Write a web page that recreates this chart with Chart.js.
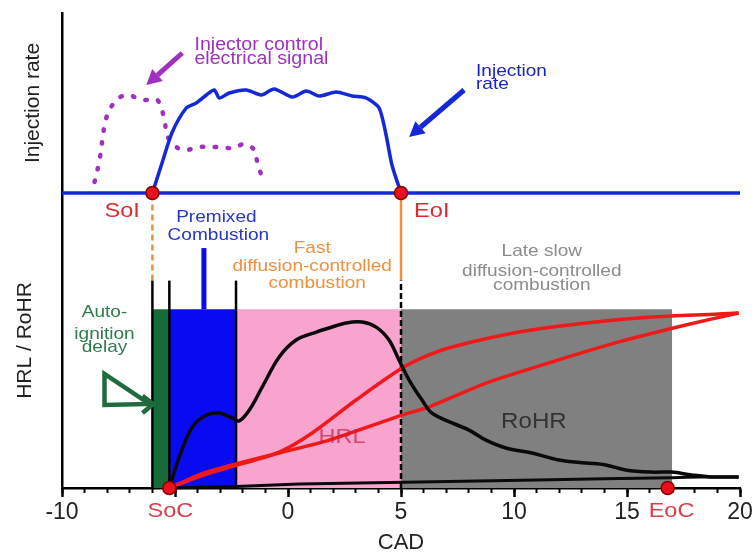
<!DOCTYPE html>
<html>
<head>
<meta charset="utf-8">
<script src="https://cdn.jsdelivr.net/npm/chart.js@4.4.1/dist/chart.umd.min.js"></script>
<style>
  html, body { margin: 0; padding: 0; background: #fff; }
</style>
</head>
<body>
<canvas id="combustionChart" width="755" height="558"></canvas>
<script>
// ---- data ----
// injection rate (upper panel), CAD vs normalised rate
const injCad  = [-6.0, -5.56, -5.12, -4.5, -4.06, -3.61, -3.26, -3.04, -2.6, -1.85, -1.18, -0.61, 0.19, 0.81, 1.38, 2.13, 2.84, 3.46, 4.03, 4.34, 4.6, 5.0];
const injRate = [0, 0.31, 0.61, 0.85, 0.90, 0.98, 1.03, 0.95, 1.00, 1.03, 0.98, 1.04, 0.96, 1.02, 0.97, 1.01, 0.97, 0.95, 0.85, 0.58, 0.28, 0];

// injector control electrical signal (dotted)
const signalCad   = [-8.56, -8.34, -8.03, -7.59, -7.11, -6.44, -5.78, -5.47, -5.3, -4.68, -3.92, -3.17, -2.38, -1.94, -1.49, -1.36, -1.14];
const signalLevel = [0.11, 0.33, 0.76, 0.93, 0.98, 0.93, 0.93, 0.73, 0.55, 0.43, 0.46, 0.46, 0.45, 0.49, 0.43, 0.31, 0.15];

// rate of heat release (lower panel)
const rohrCad = [-5.25, -4.81, -4.23, -3.61, -3.04, -2.47, -2.16, -1.71, -1.14, -0.39, 0.36, 1.25, 1.82, 2.57, 3.28, 3.90, 4.47, 4.91, 5.36, 5.93, 6.37, 7.26, 8.01, 8.76, 9.64, 10.79, 11.98, 13.18, 14.06, 14.94, 16.09, 16.98, 17.86, 18.75, 19.94];
const rohrVal = [0, 0.173, 0.341, 0.408, 0.419, 0.392, 0.375, 0.436, 0.565, 0.733, 0.828, 0.872, 0.895, 0.923, 0.928, 0.900, 0.828, 0.716, 0.604, 0.492, 0.419, 0.364, 0.324, 0.268, 0.224, 0.196, 0.157, 0.140, 0.129, 0.101, 0.089, 0.089, 0.073, 0.062, 0.062];
const rohrBackCad = [19.94, 18.3, 16.98, 11.0, 5.8, 0.49, -2.29, -5.25];
const rohrBackVal = [0.062, 0.062, 0.058, 0.045, 0.033, 0.022, 0.008, 0];

// heat release law
const hrlCad = [-5.25, -3.8, -2.6, -0.39, 1.07, 3.01, 5.05, 6.24, 7.26, 10.22, 13.18, 16.09, 19.05, 19.94];
const hrlVal = [0, 0.07, 0.115, 0.201, 0.308, 0.492, 0.671, 0.744, 0.789, 0.872, 0.923, 0.956, 0.973, 0.979];
const hrlBackCad = [19.94, 17.6, 14.64, 11.68, 8.76, 6.24, 5.05, 1.82, -0.39, -2.6, -3.8, -5.25];
const hrlBackVal = [0.979, 0.912, 0.817, 0.705, 0.587, 0.453, 0.408, 0.268, 0.196, 0.125, 0.08, 0];

// combustion phases
const phaseNames  = ['Auto-ignition delay', 'Premixed combustion', 'Fast diffusion-controlled', 'Late slow diffusion-controlled'];
const phaseStart  = [-6, -5.25, -2.3, 5];
const phaseEnd    = [-5.25, -2.3, 5, 17];
const phaseTop    = [1, 1, 1, 1];
const phaseColors = ['#176a3a', '#0a0af2', '#f9a3cf', '#808080'];

// phase boundary lines
const boundaryCad = [-6, -5.25, -2.3, 5];
const boundaryTop = 1.16;
const premixedMarkCad = -3.72;
const premixedMarkVal = [1.0, 1.342];

// events
const eventNames = ['SoI', 'EoI', 'SoC', 'EoC'];
const eventCad   = [-6, 5, -5.25, 16.8];
const eventAxis  = ['yInj', 'yInj', 'yHeat', 'yHeat'];

const heatMax = 1.65;   // yHeat top == injection baseline
const injMax = 1.8;

const pts = (xs, ys) => xs.map((x, i) => ({x: x, y: ys[i]}));

Chart.defaults.font.family = "'Liberation Sans', Arial, Helvetica, sans-serif";

const datasets = [];

// event dots on top
eventNames.forEach((name, i) => {
  datasets.push({
    label: name, yAxisID: eventAxis[i],
    data: [{x: eventCad[i], y: 0}],
    showLine: false, pointRadius: 6.5, pointBackgroundColor: '#e8101c',
    pointBorderColor: '#8a0000', pointBorderWidth: 1.5, order: 0
  });
});

datasets.push({
  label: 'Injection rate', yAxisID: 'yInj', data: pts(injCad, injRate),
  borderColor: '#1428d8', borderWidth: 3.5, tension: 0.25, pointRadius: 0, order: 1
});
datasets.push({
  label: 'Injection baseline', yAxisID: 'yInj', data: [{x: -10, y: 0}, {x: 20, y: 0}],
  borderColor: '#1428d8', borderWidth: 3.5, pointRadius: 0, order: 1
});
datasets.push({
  label: 'Injector control electrical signal', yAxisID: 'yInj', data: pts(signalCad, signalLevel),
  borderColor: '#a030c0', borderWidth: 4.5, borderDash: [1.5, 11.5], borderCapStyle: 'round',
  tension: 0.35, pointRadius: 0, order: 2
});
datasets.push({
  label: 'RoHR', yAxisID: 'yHeat', data: pts(rohrCad, rohrVal),
  borderColor: '#0a0a0a', borderWidth: 3.5, tension: 0.35, pointRadius: 0, order: 2
});
datasets.push({
  label: 'RoHR tail', yAxisID: 'yHeat', data: pts(rohrBackCad, rohrBackVal),
  borderColor: '#0a0a0a', borderWidth: 3, tension: 0.2, pointRadius: 0, order: 2
});
datasets.push({
  label: 'HRL', yAxisID: 'yHeat', data: pts(hrlCad, hrlVal),
  borderColor: '#f01818', borderWidth: 3.5, tension: 0.3, pointRadius: 0, order: 2
});
datasets.push({
  label: 'HRL return', yAxisID: 'yHeat', data: pts(hrlBackCad, hrlBackVal),
  borderColor: '#f01818', borderWidth: 3.5, tension: 0.2, pointRadius: 0, order: 2
});

// boundary lines
boundaryCad.forEach((c, i) => {
  const last = i === boundaryCad.length - 1;
  datasets.push({
    label: 'boundary ' + c, yAxisID: 'yHeat', data: [{x: c, y: 0}, {x: c, y: boundaryTop}],
    borderColor: '#000', borderWidth: 2.5, borderDash: last ? [6, 3] : [], pointRadius: 0, order: 3
  });
});
// SoI / EoI guides down to the boundaries
[eventCad[0], eventCad[1]].forEach((c, i) => {
  datasets.push({
    label: 'guide ' + c, yAxisID: 'yHeat', data: [{x: c, y: boundaryTop}, {x: c, y: heatMax}],
    borderColor: '#f0903a', borderWidth: 2.5, borderDash: i === 0 ? [6, 4] : [], pointRadius: 0, order: 3
  });
});
datasets.push({
  label: 'premixed mark', yAxisID: 'yHeat',
  data: [{x: premixedMarkCad, y: premixedMarkVal[0]}, {x: premixedMarkCad, y: premixedMarkVal[1]}],
  borderColor: '#0a0af2', borderWidth: 5, pointRadius: 0, order: 3
});

// phase blocks underneath
phaseStart.forEach((s, i) => {
  datasets.push({
    label: phaseNames[i], yAxisID: 'yHeat',
    data: [{x: s, y: phaseTop[i]}, {x: phaseEnd[i], y: phaseTop[i]}],
    fill: 'origin', backgroundColor: phaseColors[i], borderWidth: 0, pointRadius: 0, order: 20
  });
});

// annotation text and arrows
const notesPlugin = {
  id: 'notes',
  afterDatasetsDraw(chart) {
    const {ctx, scales} = chart;
    const X = v => scales.x.getPixelForValue(v);
    const Y = (v, ax) => scales[ax].getPixelForValue(v);
    const stretch = 1.12;   // the source lettering is a little wide

    const notes = [
      ['Injector control', -4.14, 1.43, 'yInj', 'left', '#a030c0', 17.5],
      ['electrical signal', -4.14, 1.29, 'yInj', 'left', '#a030c0', 17.5],
      ['Injection', 8.32, 1.17, 'yInj', 'left', '#1a22c8', 17],
      ['rate', 8.32, 1.04, 'yInj', 'left', '#1a22c8', 17],
      ['SoI', -8.12, 1.516, 'yHeat', 'left', '#dc2a32', 21],
      ['EoI', 5.58, 1.516, 'yHeat', 'left', '#dc2a32', 21],
      ['Premixed', -3.17, 1.488, 'yHeat', 'center', '#2536c8', 17],
      ['Combustion', -3.08, 1.387, 'yHeat', 'center', '#2536c8', 17],
      ['Fast', 1.07, 1.314, 'yHeat', 'center', '#f0903c', 17],
      ['diffusion-controlled', 1.07, 1.214, 'yHeat', 'center', '#f0903c', 17],
      ['combustion', 1.29, 1.119, 'yHeat', 'center', '#f0903c', 17],
      ['Late slow', 11.23, 1.298, 'yHeat', 'center', '#8c8c8c', 17],
      ['diffusion-controlled', 11.23, 1.186, 'yHeat', 'center', '#8c8c8c', 17],
      ['combustion', 11.23, 1.107, 'yHeat', 'center', '#8c8c8c', 17],
      ['Auto-', -8.12, 0.956, 'yHeat', 'center', '#2e7b4d', 17],
      ['ignition', -8.12, 0.835, 'yHeat', 'center', '#2e7b4d', 17],
      ['delay', -8.12, 0.758, 'yHeat', 'center', '#2e7b4d', 17],
      ['HRL', 2.39, 0.252, 'yHeat', 'center', 'rgba(200,30,60,0.7)', 21],
      ['RoHR', 10.88, 0.336, 'yHeat', 'center', '#333', 21.5],
      ['SoC', -5.2, -0.162, 'yHeat', 'center', '#d8404c', 21],
      ['EoC', 16.97, -0.162, 'yHeat', 'center', '#d8404c', 21]
    ];

    ctx.save();
    ctx.textBaseline = 'alphabetic';
    notes.forEach(n => {
      ctx.save();
      ctx.translate(X(n[1]), Y(n[2], n[3]));
      ctx.scale(stretch, 1);
      ctx.font = n[6] + "px 'Liberation Sans', Arial, sans-serif";
      ctx.fillStyle = n[5];
      ctx.textAlign = n[4];
      ctx.fillText(n[0], 0, 0);
      ctx.restore();
    });

    function arrow(x1, y1, x2, y2, color) {
      const a = Math.atan2(y2 - y1, x2 - x1);
      const head = 15, hw = 8;
      const bx = x2 - head * Math.cos(a), by = y2 - head * Math.sin(a);
      ctx.strokeStyle = color; ctx.fillStyle = color;
      ctx.lineWidth = 5; ctx.lineCap = 'butt';
      ctx.beginPath(); ctx.moveTo(x1, y1); ctx.lineTo(bx, by); ctx.stroke();
      ctx.beginPath();
      ctx.moveTo(x2, y2);
      ctx.lineTo(bx + hw * Math.sin(a), by - hw * Math.cos(a));
      ctx.lineTo(bx - hw * Math.sin(a), by + hw * Math.cos(a));
      ctx.closePath(); ctx.fill();
    }
    arrow(X(-4.68), Y(1.40, 'yInj'), X(-6.27), Y(1.08, 'yInj'), '#a030c0');
    arrow(X(7.79), Y(1.03, 'yInj'), X(5.36), Y(0.56, 'yInj'), '#1428d8');

    // green outlined arrow towards the ignition delay block
    ctx.strokeStyle = '#1f6b3e';
    ctx.lineWidth = 4.5;
    ctx.lineJoin = 'miter';
    ctx.beginPath();
    ctx.moveTo(X(-8.12), Y(0.638, 'yHeat'));
    ctx.lineTo(X(-8.12), Y(0.464, 'yHeat'));
    ctx.lineTo(X(-6.13), Y(0.47, 'yHeat'));
    ctx.closePath();
    ctx.stroke();
    ctx.beginPath();
    ctx.moveTo(X(-6.44), Y(0.515, 'yHeat'));
    ctx.lineTo(X(-5.96), Y(0.47, 'yHeat'));
    ctx.lineTo(X(-6.44), Y(0.42, 'yHeat'));
    ctx.stroke();
    ctx.restore();
  }
};

new Chart(document.getElementById('combustionChart'), {
  type: 'line',
  data: { datasets: datasets },
  options: {
    responsive: false,
    animation: false,
    layout: { padding: { left: 0, top: 13, right: 15, bottom: 0 } },
    plugins: { legend: { display: false }, tooltip: { enabled: false } },
    datasets: { line: { clip: false } },
    scales: {
      x: {
        type: 'linear', min: -10, max: 20, position: 'bottom',
        ticks: {
          stepSize: 5, autoSkip: false, maxRotation: 0, padding: 2,
          color: '#222', font: { size: 23 },
          callback: v => (v === -5 ? '' : String(v))
        },
        grid: { drawOnChartArea: false, tickLength: 9, tickWidth: 2.5, tickColor: '#000' },
        border: { color: '#000', width: 2.5 },
        title: { display: true, text: 'CAD', color: '#222', font: { size: 22 }, padding: { top: 0, bottom: 2 } },
        afterFit: s => { s.height = 70; }
      },
      xMinor: {
        type: 'linear', min: -10, max: 20, position: { yHeat: 0 },
        ticks: { display: false, stepSize: 1, autoSkip: false },
        grid: { drawOnChartArea: false, tickLength: 5, tickWidth: 2, tickColor: '#000' },
        border: { display: false }
      },
      yInj: {
        type: 'linear', position: 'left', stack: 'left', stackWeight: 180, weight: 1,
        min: 0, max: injMax,
        ticks: { display: false },
        grid: { display: false },
        border: { color: '#000', width: 2.5 },
        title: { display: true, text: 'Injection rate', color: '#222', font: { size: 21 }, padding: { top: 21, bottom: 0 } },
        afterFit: s => { s.width = 62; }
      },
      yHeat: {
        type: 'linear', position: 'left', stack: 'left', stackWeight: 295, weight: 0,
        min: 0, max: heatMax,
        ticks: { display: false },
        grid: { display: false },
        border: { color: '#000', width: 2.5 },
        title: { display: true, text: 'HRL / RoHR', color: '#222', font: { size: 21 }, padding: { top: 13, bottom: 0 } },
        afterFit: s => { s.width = 62; }
      }
    }
  },
  plugins: [notesPlugin]
});
</script>
</body>
</html>
